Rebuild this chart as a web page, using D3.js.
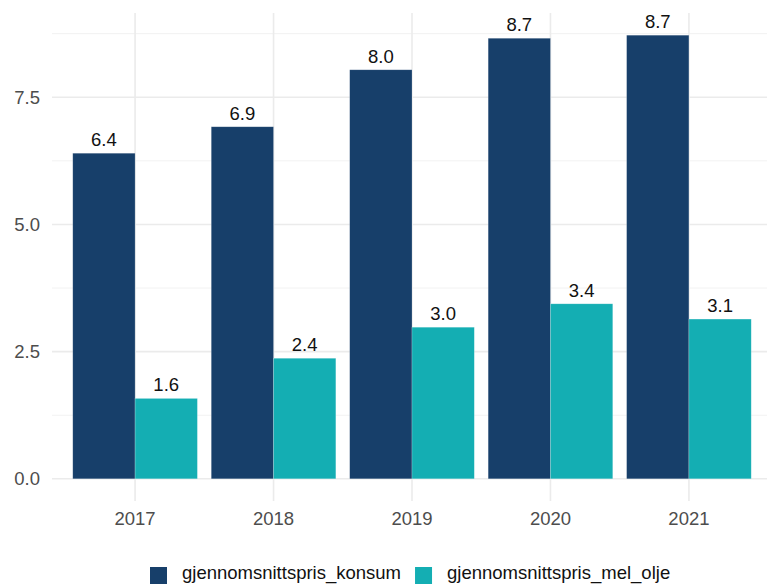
<!DOCTYPE html>
<html>
<head>
<meta charset="utf-8">
<script src="https://cdn.jsdelivr.net/npm/d3@7"></script>
<style>
  body { margin: 0; background: #fff; }
  svg { display: block; font-family: "Liberation Sans", Arial, sans-serif; }
</style>
</head>
<body>
<svg id="chart" width="767" height="586"></svg>
<script>
// data
var years = ['2017', '2018', '2019', '2020', '2021']
var series = ['gjennomsnittspris_konsum', 'gjennomsnittspris_mel_olje']
var konsum = [6.40, 6.92, 8.04, 8.66, 8.72]
var melOlje = [1.58, 2.37, 2.98, 3.44, 3.14]
var yTicks = [0, 2.5, 5, 7.5]
var yMinor = [1.25, 3.75, 6.25, 8.75]

var colors = { gjennomsnittspris_konsum: '#173f6a', gjennomsnittspris_mel_olje: '#14aeb3' }
var font = '"Liberation Sans", Arial, sans-serif'
var fs = 18.5

var rows = []
years.forEach(function (yr, i) {
    rows.push({ year: yr, key: series[0], value: konsum[i] })
    rows.push({ year: yr, key: series[1], value: melOlje[i] })
})

// panel edges (ggplot-like, right side runs past the picture)
var panel = { l: 52, r: 772, t: 13, b: 501 }

var svg = d3.select('#chart')

var maxV = d3.max(rows, d => d.value)
var y = d3.scaleLinear()
    .domain([-0.05 * maxV, maxV * 1.05])
    .range([panel.b, panel.t])

// discrete scale with 0.6 expansion on each side
var x = d3.scaleBand()
    .domain(years)
    .range([panel.l, panel.r])
    .paddingOuter(0.1)
    .paddingInner(0)
var step = x.bandwidth()
var cx = d => x(d) + step / 2

var inner = d3.scaleBand()
    .domain(series)
    .range([-0.45 * step, 0.45 * step])

var grid = svg.append('g')

grid.selectAll('line.minor')
    .data(yMinor)
    .join('line')
    .attr('class', 'minor')
    .attr('x1', panel.l).attr('x2', panel.r)
    .attr('y1', d => y(d)).attr('y2', d => y(d))
    .attr('stroke', '#f2f2f2').attr('stroke-width', 1)

grid.selectAll('line.major')
    .data(yTicks)
    .join('line')
    .attr('class', 'major')
    .attr('x1', panel.l).attr('x2', panel.r)
    .attr('y1', d => y(d)).attr('y2', d => y(d))
    .attr('stroke', '#ebebeb').attr('stroke-width', 1.6)

grid.selectAll('line.vx')
    .data(years)
    .join('line')
    .attr('class', 'vx')
    .attr('x1', d => cx(d)).attr('x2', d => cx(d))
    .attr('y1', panel.t).attr('y2', panel.b)
    .attr('stroke', '#ebebeb').attr('stroke-width', 1.6)

// bars
svg.selectAll('rect.bar')
    .data(rows)
    .join('rect')
    .attr('class', 'bar')
    .attr('x', d => cx(d.year) + inner(d.key))
    .attr('y', d => y(d.value))
    .attr('width', inner.bandwidth())
    .attr('height', d => y(0) - y(d.value))
    .attr('fill', d => colors[d.key])
    .attr('stroke', 'rgba(255,255,255,0.35)')
    .attr('stroke-width', 0.6)

// value labels
svg.selectAll('text.lab')
    .data(rows)
    .join('text')
    .attr('class', 'lab')
    .attr('x', d => cx(d.year) + inner(d.key) + inner.bandwidth() / 2)
    .attr('y', d => y(d.value) - 7)
    .attr('text-anchor', 'middle')
    .attr('font-size', fs)
    .attr('fill', '#111')
    .text(d => d.value.toFixed(1))

// axes (no lines, only labels)
var ya = d3.axisLeft(y).tickValues(yTicks).tickSize(0).tickPadding(12)
    .tickFormat(d3.format('.1f'))
var gy = svg.append('g').attr('transform', 'translate(' + panel.l + ',0)').call(ya)
gy.attr('font-size', fs).attr('font-family', font)
gy.select('.domain').remove()
gy.selectAll('text').attr('fill', '#4d4d4d')

var xa = d3.axisBottom(x).tickSize(0).tickPadding(11)
var gx = svg.append('g').attr('transform', 'translate(0,' + panel.b + ')').call(xa)
gx.attr('font-size', fs).attr('font-family', font)
gx.select('.domain').remove()
gx.selectAll('text').attr('fill', '#4d4d4d')

// legend at bottom
var legend = svg.append('g').attr('transform', 'translate(0,579)')
var lx = 150
series.forEach(function (s) {
    var g = legend.append('g').attr('transform', 'translate(' + lx + ',0)')
    g.append('rect')
        .attr('x', 0).attr('y', -12)
        .attr('width', 17).attr('height', 17)
        .attr('fill', colors[s])
    var t = g.append('text')
        .attr('x', 32).attr('y', 0)
        .attr('font-size', fs)
        .attr('fill', '#111')
        .text(s)
    lx += 32 + t.node().getComputedTextLength() + 14
})
</script>
</body>
</html>
